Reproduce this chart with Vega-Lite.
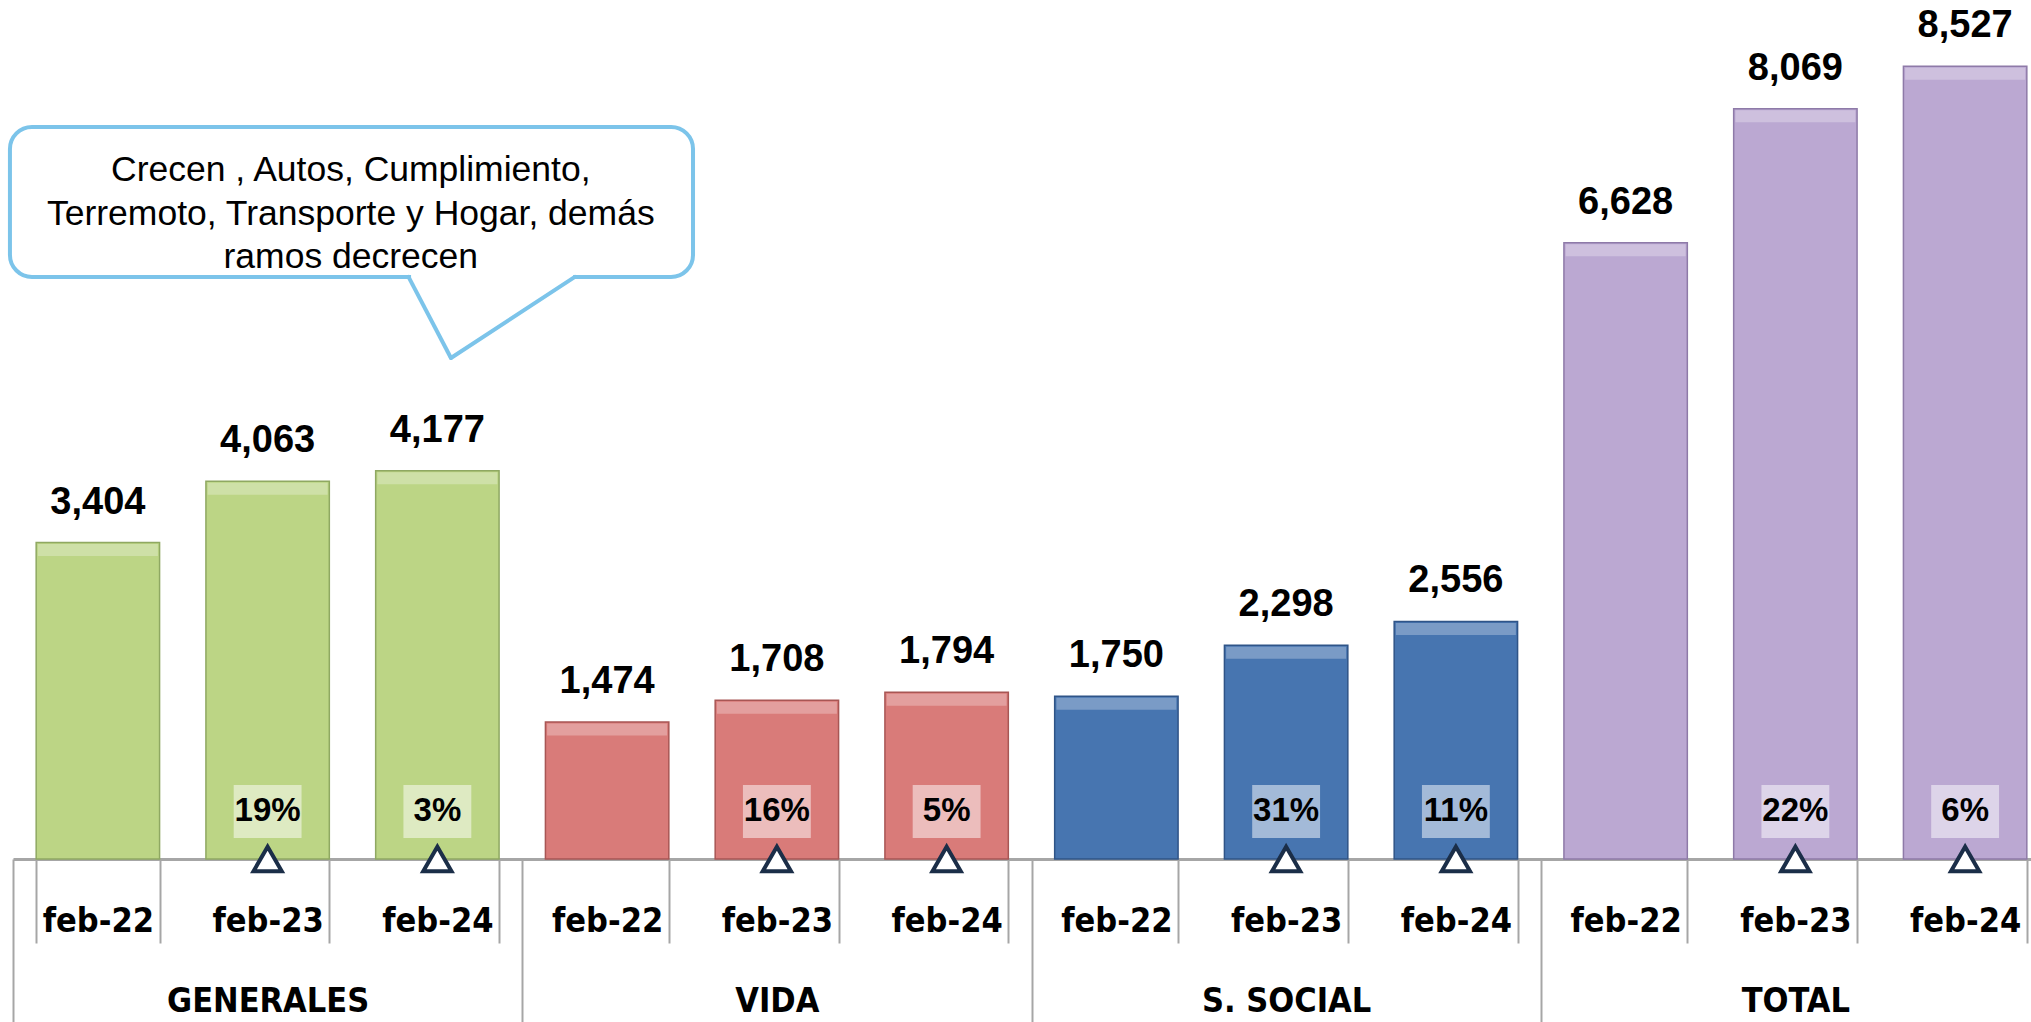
{
  "$schema": "https://vega.github.io/schema/vega-lite/v6.json",
  "autosize": {"type": "none"},
  "width": 2018,
  "height": 859,
  "padding": {"left": 13, "top": 0, "right": 0, "bottom": 163},
  "background": "white",
  "config": {"view": {"stroke": null}},
  "data": {"values": [
    {"group": "GENERALES", "date": "feb-22", "key": "GENERALES|feb-22", "value": 3404, "pct": null},
    {"group": "GENERALES", "date": "feb-23", "key": "GENERALES|feb-23", "value": 4063, "pct": "19%"},
    {"group": "GENERALES", "date": "feb-24", "key": "GENERALES|feb-24", "value": 4177, "pct": "3%"},
    {"group": "VIDA", "date": "feb-22", "key": "VIDA|feb-22", "value": 1474, "pct": null},
    {"group": "VIDA", "date": "feb-23", "key": "VIDA|feb-23", "value": 1708, "pct": "16%"},
    {"group": "VIDA", "date": "feb-24", "key": "VIDA|feb-24", "value": 1794, "pct": "5%"},
    {"group": "S. SOCIAL", "date": "feb-22", "key": "S. SOCIAL|feb-22", "value": 1750, "pct": null},
    {"group": "S. SOCIAL", "date": "feb-23", "key": "S. SOCIAL|feb-23", "value": 2298, "pct": "31%"},
    {"group": "S. SOCIAL", "date": "feb-24", "key": "S. SOCIAL|feb-24", "value": 2556, "pct": "11%"},
    {"group": "TOTAL", "date": "feb-22", "key": "TOTAL|feb-22", "value": 6628, "pct": null},
    {"group": "TOTAL", "date": "feb-23", "key": "TOTAL|feb-23", "value": 8069, "pct": "22%"},
    {"group": "TOTAL", "date": "feb-24", "key": "TOTAL|feb-24", "value": 8527, "pct": "6%"}
  ]},
  "resolve": {"scale": {"x": "independent"}, "axis": {"x": "independent"}},
  "layer": [
    {
      "mark": {"type": "text"},
      "encoding": {
        "text": {"value": ""},
        "x": {
          "field": "group", "type": "nominal",
          "sort": ["GENERALES", "VIDA", "S. SOCIAL", "TOTAL"],
          "scale": {"paddingInner": 0, "paddingOuter": 0, "range": [0, 2037]},
          "axis": {
            "orient": "bottom", "title": null, "domain": false, "grid": false,
            "ticks": true, "tickBand": "extent", "tickSize": 163, "tickColor": "#A6A6A6", "tickWidth": 2,
            "labelPadding": -21, "labelBaseline": "middle", "labelAngle": 0, "labelLimit": 0,
            "labelFont": "'DejaVu Sans Condensed', sans-serif", "labelFontWeight": "bold", "labelFontSize": 34, "labelColor": "#000000"
          }
        }
      }
    },
    {
      "encoding": {
        "x": {
          "field": "key", "type": "nominal", "sort": null,
          "scale": {"paddingInner": 0.273, "paddingOuter": 0.1365, "range": [0, 2037]},
          "axis": {
            "orient": "bottom", "title": null, "grid": false,
            "labelExpr": "split(datum.value, '|')[1]",
            "domainColor": "#A6A6A6", "domainWidth": 3,
            "ticks": true, "tickBand": "extent", "tickSize": 84, "tickColor": "#A6A6A6", "tickWidth": 2,
            "labelPadding": -22, "labelBaseline": "middle", "labelAngle": 0, "labelLimit": 0,
            "labelFont": "'DejaVu Sans Condensed', sans-serif", "labelFontWeight": "bold", "labelFontSize": 34, "labelColor": "#000000"
          }
        }
      },
      "layer": [
        {
          "mark": {"type": "bar", "strokeWidth": 1.5},
          "encoding": {
            "y": {"field": "value", "type": "quantitative", "scale": {"domain": [0, 9240], "nice": false, "zero": true}, "axis": null},
            "fill": {"field": "group", "type": "nominal", "legend": null,
              "scale": {"domain": ["GENERALES", "VIDA", "S. SOCIAL", "TOTAL"], "range": ["#BCD585", "#D97B79", "#4775B0", "#BBA8D2"]}},
            "stroke": {"field": "group", "type": "nominal", "legend": null,
              "scale": {"domain": ["GENERALES", "VIDA", "S. SOCIAL", "TOTAL"], "range": ["#8FA862", "#A85654", "#2F5487", "#8E7AA8"]}}
          }
        },
        {
          "mark": {"type": "tick", "orient": "horizontal", "thickness": 12, "yOffset": 7.5, "size": 120, "color": "#FFFFFF", "opacity": 0.28},
          "encoding": {
            "y": {"field": "value", "type": "quantitative"}
          }
        },
        {
          "mark": {"type": "text", "font": "Liberation Sans", "fontWeight": "bold", "fontSize": 38, "baseline": "middle", "dy": -40, "color": "#000000"},
          "encoding": {
            "y": {"field": "value", "type": "quantitative"},
            "text": {"field": "value", "type": "quantitative", "format": ",d"}
          }
        },
        {
          "transform": [{"filter": "isValid(datum.pct)"}],
          "mark": {"type": "bar", "width": {"band": 0.55}, "fill": "#FFFFFF", "opacity": 0.5},
          "encoding": {
            "y": {"datum": 226, "type": "quantitative"},
            "y2": {"datum": 797}
          }
        },
        {
          "transform": [{"filter": "isValid(datum.pct)"}],
          "mark": {"type": "text", "font": "Liberation Sans", "fontWeight": "bold", "fontSize": 33, "baseline": "middle", "color": "#000000"},
          "encoding": {
            "y": {"datum": 517, "type": "quantitative"},
            "text": {"field": "pct", "type": "nominal"}
          }
        },
        {
          "transform": [{"filter": "isValid(datum.pct)"}],
          "mark": {"type": "point", "shape": "triangle-up", "filled": true, "fill": "#FFFFFF", "stroke": "#1B2E48", "strokeWidth": 4, "size": 800, "opacity": 1},
          "encoding": {
            "y": {"datum": 0, "type": "quantitative"}
          }
        }
      ]
    },
    {
      "data": {"values": [{}]},
      "layer": [
        {
          "mark": {"type": "rect", "cornerRadius": 22, "fill": "#FFFFFF", "stroke": "#7CC4EA", "strokeWidth": 4},
          "encoding": {
            "x": {"datum": -0.018, "type": "quantitative", "scale": {"domain": [0, 12], "range": [0, 2037], "nice": false, "zero": false}, "axis": null},
            "x2": {"datum": 4.006},
            "y": {"datum": 7874, "type": "quantitative"},
            "y2": {"datum": 6261}
          }
        },
        {
          "mark": {"type": "rule", "stroke": "#FFFFFF", "strokeWidth": 7},
          "encoding": {
            "x": {"datum": 2.345, "type": "quantitative"},
            "x2": {"datum": 3.30},
            "y": {"datum": 6261, "type": "quantitative"}
          }
        },
        {
          "mark": {"type": "rule", "stroke": "#7CC4EA", "strokeWidth": 4, "strokeCap": "round"},
          "encoding": {
            "x": {"datum": 2.33, "type": "quantitative"},
            "x2": {"datum": 2.58},
            "y": {"datum": 6261, "type": "quantitative"},
            "y2": {"datum": 5389}
          }
        },
        {
          "mark": {"type": "rule", "stroke": "#7CC4EA", "strokeWidth": 4, "strokeCap": "round"},
          "encoding": {
            "x": {"datum": 2.58, "type": "quantitative"},
            "x2": {"datum": 3.31},
            "y": {"datum": 5389, "type": "quantitative"},
            "y2": {"datum": 6261}
          }
        },
        {
          "mark": {"type": "text", "font": "Liberation Sans", "fontSize": 35.5, "lineHeight": 43.5, "align": "center", "baseline": "middle", "color": "#000000"},
          "encoding": {
            "x": {"datum": 1.99, "type": "quantitative"},
            "y": {"datum": 7411, "type": "quantitative"},
            "text": {"value": ["Crecen , Autos, Cumplimiento,", "Terremoto, Transporte y Hogar, demás", "ramos decrecen"]}
          }
        }
      ]
    }
  ]
}
